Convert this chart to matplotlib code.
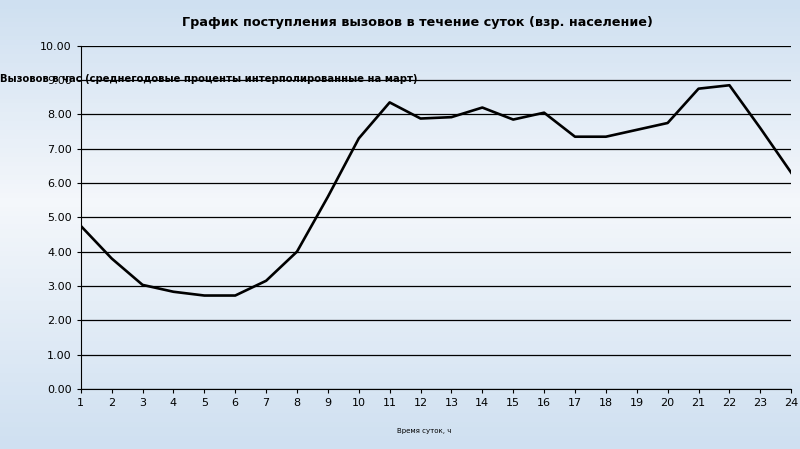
import matplotlib
matplotlib.use("Agg")
import matplotlib.pyplot as plt
import numpy as np

hours = list(range(1, 25))
calls = [4.75, 3.80, 3.03, 2.83, 2.72, 2.72, 3.15, 4.00, 5.60, 7.30, 8.35, 7.88,
         7.92, 8.20, 7.85, 8.05, 7.35, 7.35, 7.55, 7.75, 8.75, 8.85, 7.60, 6.30]
yticks = [0, 1, 2, 3, 4, 5, 6, 7, 8, 9, 10]

title = "График поступления вызовов в течение суток (взр. население)"
ylabel = "Вызовов в час (среднегодовые проценты интерполированные на март)"
xlabel = "Время суток, ч"

fig = plt.figure(figsize=(8, 4.49), dpi=100)

# background gradient: blue at the edges, nearly white in the middle
bg = fig.add_axes([0, 0, 1, 1], zorder=-10)
grad = np.concatenate([np.linspace(0, 1, 45), np.linspace(1, 0, 55)])
top = np.array([207, 224, 241]) / 255
mid = np.array([244, 247, 251]) / 255
colors = top[None, :] + (mid - top)[None, :] * grad[:, None]
bg.imshow(colors[:, None, :], aspect="auto", extent=[0, 1, 0, 1])
bg.axis("off")

ax = fig.add_axes([0.101, 0.134, 0.888, 0.764])
ax.patch.set_alpha(0)
ax.plot(hours, calls, color="black", lw=1.9)

ax.set_xlim(1, 24)
ax.set_ylim(0, 10)
ax.set_xticks(hours)
ax.set_yticks(yticks)
ax.set_yticklabels([f"{v:.2f}" for v in yticks])
ax.yaxis.grid(True, color="black", lw=0.9)
ax.set_axisbelow(True)
for s in ["top", "right"]:
    ax.spines[s].set_visible(False)
ax.tick_params(labelsize=8, length=3, color="black")

fig.text(0.522, 0.95, title, ha="center", va="center", fontsize=9.2, fontweight="bold")
fig.text(0.0, 0.824, ylabel, ha="left", va="center", fontsize=7.2, fontweight="bold")
fig.text(0.53, 0.04, xlabel, ha="center", va="center", fontsize=5)

fig.savefig("out.png", dpi=100)
